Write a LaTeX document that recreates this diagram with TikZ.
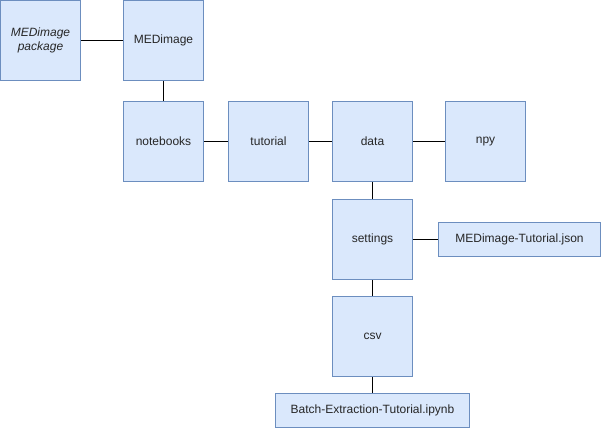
\documentclass[tikz,border=0pt]{standalone}
\usepackage{fontspec}
\setmainfont{Liberation Sans}
\definecolor{boxfill}{HTML}{DAE8FC}
\definecolor{boxdraw}{HTML}{6C8EBF}
\begin{document}
\begin{tikzpicture}[x=0.75pt,y=-0.75pt,
  box/.style={draw=boxdraw,fill=boxfill,line width=0.75pt,minimum width=60pt,minimum height=60pt,inner sep=0pt,font=\fontsize{9}{11}\selectfont,align=center,text=black!85},
  wbox/.style={box,minimum height=25.5pt},
  link/.style={line width=0.75pt,black}]
\useasboundingbox (0,0) rectangle (601,430);
\node[box] (pkg) at (40.5,40.5) {\itshape MEDimage\\\itshape package};
\node[box] (med) at (163.5,40.5) {MEDimage};
\node[box] (nb) at (163.5,141.5) {notebooks};
\node[box] (tut) at (268.5,141.5) {tutorial};
\node[box] (data) at (372.5,141.5) {data};
\node[box] (npy) at (485.5,141.5) {npy};
\node[box] (set) at (372.5,239.5) {settings};
\node[wbox,minimum width=121.5pt] (json) at (519.5,239.5) {MEDimage-Tutorial.json};
\node[box] (csv) at (372.5,336.5) {csv};
\node[wbox,minimum width=145.5pt] (batch) at (372.5,410.5) {Batch-Extraction-Tutorial.ipynb};
\draw[link] (pkg) -- (med);
\draw[link] (med) -- (nb);
\draw[link] (nb) -- (tut);
\draw[link] (tut) -- (data);
\draw[link] (data) -- (npy);
\draw[link] (data) -- (set);
\draw[link] (set) -- (json);
\draw[link] (set) -- (csv);
\draw[link] (csv) -- (batch);
\end{tikzpicture}
\end{document}
